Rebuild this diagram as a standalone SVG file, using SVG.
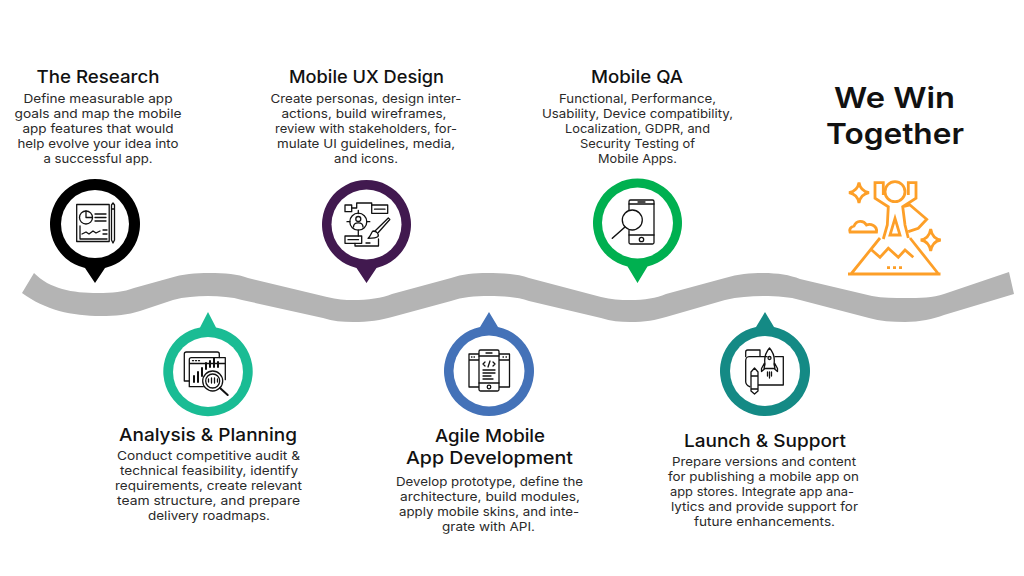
<svg xmlns="http://www.w3.org/2000/svg" width="1024" height="576" viewBox="0 0 1024 576">
<style>
text{font-family:"Inter","Open Sans","Liberation Sans",sans-serif;text-anchor:middle;fill:#2a2a2a}
.h{font-size:17.5px;font-weight:500;fill:#111}
.b{font-size:12px}
.w{font-size:29px;font-weight:600;fill:#111}
.i{fill:none;stroke:#111;stroke-width:1.3;stroke-linejoin:round;stroke-linecap:round}
.o{fill:none;stroke:#fd9f28;stroke-width:2.8;stroke-linejoin:miter}
</style>
<rect width="1024" height="576" fill="#fff"/>
<g id="connectors">
<path fill="#b4b4b4" d="M34 273C50 289 72 293 98 293C112 293 124 292 134 288L170 278C182 274 196 273 209 273C225 273 238 274 248 278L327 297C337 299.500 345 300 353 300C368 300 382 298 392 294L451 278C462 274 475 273 487 273C502 273 518 274 529 278L601 297C611 299.500 620 300 630 300C645 300 656 298 666 294L725 278C738 274 750 273 763 273C778 273 790 275 800 279L872 296C883 298 894 298 905 298C920 298 933 298 944 294L1009 272L1014 294L944 315C933 319 920 322 905 322C892 322 880 321 869 318L800 300C790 297 778 296 763 296C750 296 738 297 725 300L666 317C656 320 645 322 630 322C620 322 611 321 601 318L529 301C518 297 502 296 489 296C475 296 462 297 451 301L392 317C382 320 368 322 353 322C342 322 333 321 323 318L242 300C232 297 220 296 208 296C196 296 184 297 173 300L140 311C128 315 115 316 101 316C72 316 45 310 22 293Z"/>
</g>

<g id="node-research">
<path fill="#000" d="M105 267.900L95 283L85 267.900A45 45 0 1 1 105 267.900Z"/>
<circle cx="95" cy="224" r="34" fill="#fff"/>
<g class="i">
<rect x="76.700" y="204.500" width="32.500" height="37"/>
<circle cx="86" cy="217.500" r="6.500"/>
<path d="M86 211v6.500h6.500M95 214h11M95 217.500h11M95 221h11M80 226v13h27M82 234l4-2 3 2 4-3 3 2 4-2M103 230h4M103 234h4"/>
<path d="M111.500 205v35l1.500 3 1.500-3v-35l-1.500-2zM111.500 209h3"/>
</g>
<text class="h" x="98" y="83" textLength="123" lengthAdjust="spacingAndGlyphs">The Research</text>
<text class="b" x="98" y="102.500" textLength="149" lengthAdjust="spacingAndGlyphs">Define measurable app</text>
<text class="b" x="98" y="117.700" textLength="167" lengthAdjust="spacingAndGlyphs">goals and map the mobile</text>
<text class="b" x="98" y="133" textLength="151" lengthAdjust="spacingAndGlyphs">app features that would</text>
<text class="b" x="98" y="148" textLength="161" lengthAdjust="spacingAndGlyphs">help evolve your idea into</text>
<text class="b" x="98" y="163" textLength="109" lengthAdjust="spacingAndGlyphs">a successful app.</text>
</g>

<g id="node-ux">
<path fill="#41194f" d="M376.500 267.900L366.500 283L356.500 267.900A44.500 44.500 0 1 1 376.500 267.900Z"/>
<circle cx="366.500" cy="224.500" r="35" fill="#fff"/>
<g class="i">
<rect x="345" y="205" width="6.700" height="6.700"/>
<rect x="371.700" y="205" width="16" height="8.300"/>
<path d="M374.500 209.200h10.500M351.700 208h5v-5h15v2"/>
<circle cx="358.300" cy="221.700" r="8.500"/>
<circle cx="358.300" cy="219" r="2.500"/>
<path d="M353.500 227c0-5.500 9.500-5.500 9.500 0M358.300 210.500v3M358.300 230v3M347 221.700h3M366.800 221.700h3M358.300 233v3"/>
<rect x="345" y="236" width="16.700" height="7.300"/>
<path d="M348 239.700h10.500M355 243.300v2.700h23.500v-7M366 243h4M375 231l13.300-13 1.500 1.500-11.500 13"/>
<path d="M373 231c4 0 6 3 5 5.500-2 1.800-6 1.800-10 1.800 2.500-1 3-5.800 5-7.300z"/>
</g>
<text class="h" x="366.500" y="83" textLength="155" lengthAdjust="spacingAndGlyphs">Mobile UX Design</text>
<text class="b" x="366" y="102.500" textLength="191" lengthAdjust="spacingAndGlyphs">Create personas, design inter-</text>
<text class="b" x="364" y="117.700" textLength="165" lengthAdjust="spacingAndGlyphs">actions, build wireframes,</text>
<text class="b" x="366" y="133" textLength="182" lengthAdjust="spacingAndGlyphs">review with stakeholders, for-</text>
<text class="b" x="366" y="148" textLength="178" lengthAdjust="spacingAndGlyphs">mulate UI guidelines, media,</text>
<text class="b" x="366" y="163" textLength="64" lengthAdjust="spacingAndGlyphs">and icons.</text>
</g>

<g id="node-qa">
<path fill="#00b050" d="M647.500 266.400L637.500 283L627.500 266.400A44.500 44.500 0 1 1 647.500 266.400Z"/>
<circle cx="637.500" cy="223" r="35.500" fill="#fff"/>
<g class="i">
<path d="M629 210v-8.500q0-1.500 1.500-1.500h22q1.500 0 1.500 1.500v41q0 1.500-1.500 1.500h-22q-1.500 0-1.500-1.500v-12"/>
<path d="M629 204h25M629 235h25M638 202h7"/>
<circle cx="641.500" cy="239.500" r="2.200"/>
<circle cx="632.300" cy="220" r="10" fill="#fff"/>
<path d="M625 227l-12.700 11.300" stroke-width="1.500"/>
</g>
<text class="h" x="637" y="83" textLength="92" lengthAdjust="spacingAndGlyphs">Mobile QA</text>
<text class="b" x="637.500" y="102.500" textLength="157" lengthAdjust="spacingAndGlyphs">Functional, Performance,</text>
<text class="b" x="637.500" y="117.700" textLength="191" lengthAdjust="spacingAndGlyphs">Usability, Device compatibility,</text>
<text class="b" x="637.500" y="133" textLength="145" lengthAdjust="spacingAndGlyphs">Localization, GDPR, and</text>
<text class="b" x="637.500" y="148" textLength="115" lengthAdjust="spacingAndGlyphs">Security Testing of</text>
<text class="b" x="637.500" y="163" textLength="79" lengthAdjust="spacingAndGlyphs">Mobile Apps.</text>
</g>

<g id="node-win">
<text class="w" x="894.500" y="108" textLength="121" lengthAdjust="spacingAndGlyphs">We Win</text>
<text class="w" x="895" y="144" textLength="138" lengthAdjust="spacingAndGlyphs">Together</text>
<g class="o">
<path d="M859 182.500c1 6 4 9 10 10.200-6 1.200-9 4.300-10 10.300-1-6-4-9.100-10-10.300 6-1.200 9-4.200 10-10.200zM930.700 229c1 6 4 10 10 11-6 1-9 5-10 11-1-6-4-10-10-11 6-1 9-5 10-11z"/>
<path d="M850 232h26.500c1-6-6-9-10-7-3-5-10-5-12.500 1-3 1-5 3-4 6z"/>
<path d="M848 274h92.500M851 274l29-36M910 238l28.500 36M871.700 250l8.300 7.300 8.300-9 10 9 6.700-7.300 8.300 7.300"/>
<path d="M887 267.700h3M893 267.700h3M899 267.700h3"/>
<circle cx="895" cy="191.700" r="10"/>
<path d="M883.300 195v-12.300h-8.300v15.600l13.300 8.400-1 18.300-4 14M908.300 195v-12.300h7.700v15.600l-13.300 8.400 2.300 18.300 3.300 13M895 218.300l-5 16.700h10zM903 206.700l7-1.700 16.700 14.300-8.400 9-10 3.400"/>
</g>
</g>

<g id="node-analysis">
<path fill="#1abc94" d="M208 312L216 327.500A44.700 44.700 0 1 1 200 327.500Z"/>
<circle cx="208" cy="372" r="35" fill="#fff"/>
<g class="i">
<path d="M184.300 381v-27q0-2 2-2h31q2 0 2 2v3.500M184.300 381h5"/>
<path d="M189.300 386.700v-27q0-2 2-2h34v22M189.300 363.500h36M192.500 360.700h1M195.500 360.700h1M198.500 360.700h1M189.300 386.700h14"/>
<path d="M194 382v-6M198 382v-10M202 376v-8M206 369v-6M210 367v-6M214 367v-9M218 367v-5" stroke-width="2"/>
<circle cx="212.700" cy="381" r="10" fill="#fff"/>
<circle cx="212.700" cy="381" r="7"/>
<path d="M208.500 382v-3M211.500 383v-5M214.500 383v-5M217.500 382v-3"/>
<path d="M220 388l7.700 7" stroke-width="2"/>
</g>
<text class="h" x="208" y="441" textLength="178" lengthAdjust="spacingAndGlyphs">Analysis &amp; Planning</text>
<text class="b" x="208.500" y="460" textLength="183" lengthAdjust="spacingAndGlyphs">Conduct competitive audit &amp;</text>
<text class="b" x="209" y="475" textLength="178" lengthAdjust="spacingAndGlyphs">technical feasibility, identify</text>
<text class="b" x="208.500" y="490" textLength="187" lengthAdjust="spacingAndGlyphs">requirements, create relevant</text>
<text class="b" x="208.500" y="505" textLength="183" lengthAdjust="spacingAndGlyphs">team structure, and prepare</text>
<text class="b" x="209" y="520" textLength="122" lengthAdjust="spacingAndGlyphs">delivery roadmaps.</text>
</g>

<g id="node-agile">
<path fill="#4472b8" d="M489 312L498 327A45 45 0 1 1 480 327Z"/>
<circle cx="489" cy="371" r="35.500" fill="#fff"/>
<g class="i">
<path d="M479 354h-10v33h10M469 360h10M499 354h10.500v33h-10.500M499 360h10.500"/>
<rect x="479" y="350" width="20" height="41" rx="1.500" fill="#fff"/>
<path d="M479 356h20M479 383h20M486 353h6"/>
<circle cx="489" cy="387" r="1.800"/>
<path d="M485 362l-2 2 2 2M493 362l2 2-2 2M490 361l-2 6M483 370h12M483 373h12M483 376h8M483 379h10"/>
<path d="M471.500 357h.5M474 357h.5M503 357h.5M506 357h.5"/>
</g>
<text class="h" x="490" y="442" textLength="110" lengthAdjust="spacingAndGlyphs">Agile Mobile</text>
<text class="h" x="489.500" y="464" textLength="167" lengthAdjust="spacingAndGlyphs">App Development</text>
<text class="b" x="489.500" y="486" textLength="187" lengthAdjust="spacingAndGlyphs">Develop prototype, define the</text>
<text class="b" x="490" y="501" textLength="180" lengthAdjust="spacingAndGlyphs">architecture, build modules,</text>
<text class="b" x="489" y="516" textLength="180" lengthAdjust="spacingAndGlyphs">apply mobile skins, and inte-</text>
<text class="b" x="488.500" y="531" textLength="93" lengthAdjust="spacingAndGlyphs">grate with API.</text>
</g>

<g id="node-launch">
<path fill="#148a85" d="M765 312L774 327A45 45 0 1 1 756 327Z"/>
<circle cx="765" cy="371" r="35" fill="#fff"/>
<g class="i">
<path d="M745.700 356.700v-4.700q0-2 2-2h12.300v6.700h-11c-2 0-3.300 2-3.300 4v21c0 2 2 4 4 5M760 356.700h7M775 356.700h8.300v28.300h-25"/>
<path d="M765 364c-1-6 1-12 4.500-16 3.500 4 5.500 10 4.500 16l1 4.500h-11zM764.500 363l-3 5.500v3l3.500-3M774.500 363l3 5.500v3l-3.500-3"/>
<circle cx="769.500" cy="358" r="1.500"/>
<path d="M767.500 372v4M769.500 372v6M771.500 372v4"/>
<path d="M751 372l3.500-4 3.500 4v19l-3.500 3-3.500-3zM751 376h7M751 389h7" fill="#fff"/>
</g>
<text class="h" x="765" y="447" textLength="162" lengthAdjust="spacingAndGlyphs">Launch &amp; Support</text>
<text class="b" x="764" y="466" textLength="184" lengthAdjust="spacingAndGlyphs">Prepare versions and content</text>
<text class="b" x="763.500" y="481" textLength="191" lengthAdjust="spacingAndGlyphs">for publishing a mobile app on</text>
<text class="b" x="762" y="496" textLength="184" lengthAdjust="spacingAndGlyphs">app stores. Integrate app ana-</text>
<text class="b" x="764.500" y="511" textLength="187" lengthAdjust="spacingAndGlyphs">lytics and provide support for</text>
<text class="b" x="764.500" y="526" textLength="141" lengthAdjust="spacingAndGlyphs">future enhancements.</text>
</g>
</svg>
